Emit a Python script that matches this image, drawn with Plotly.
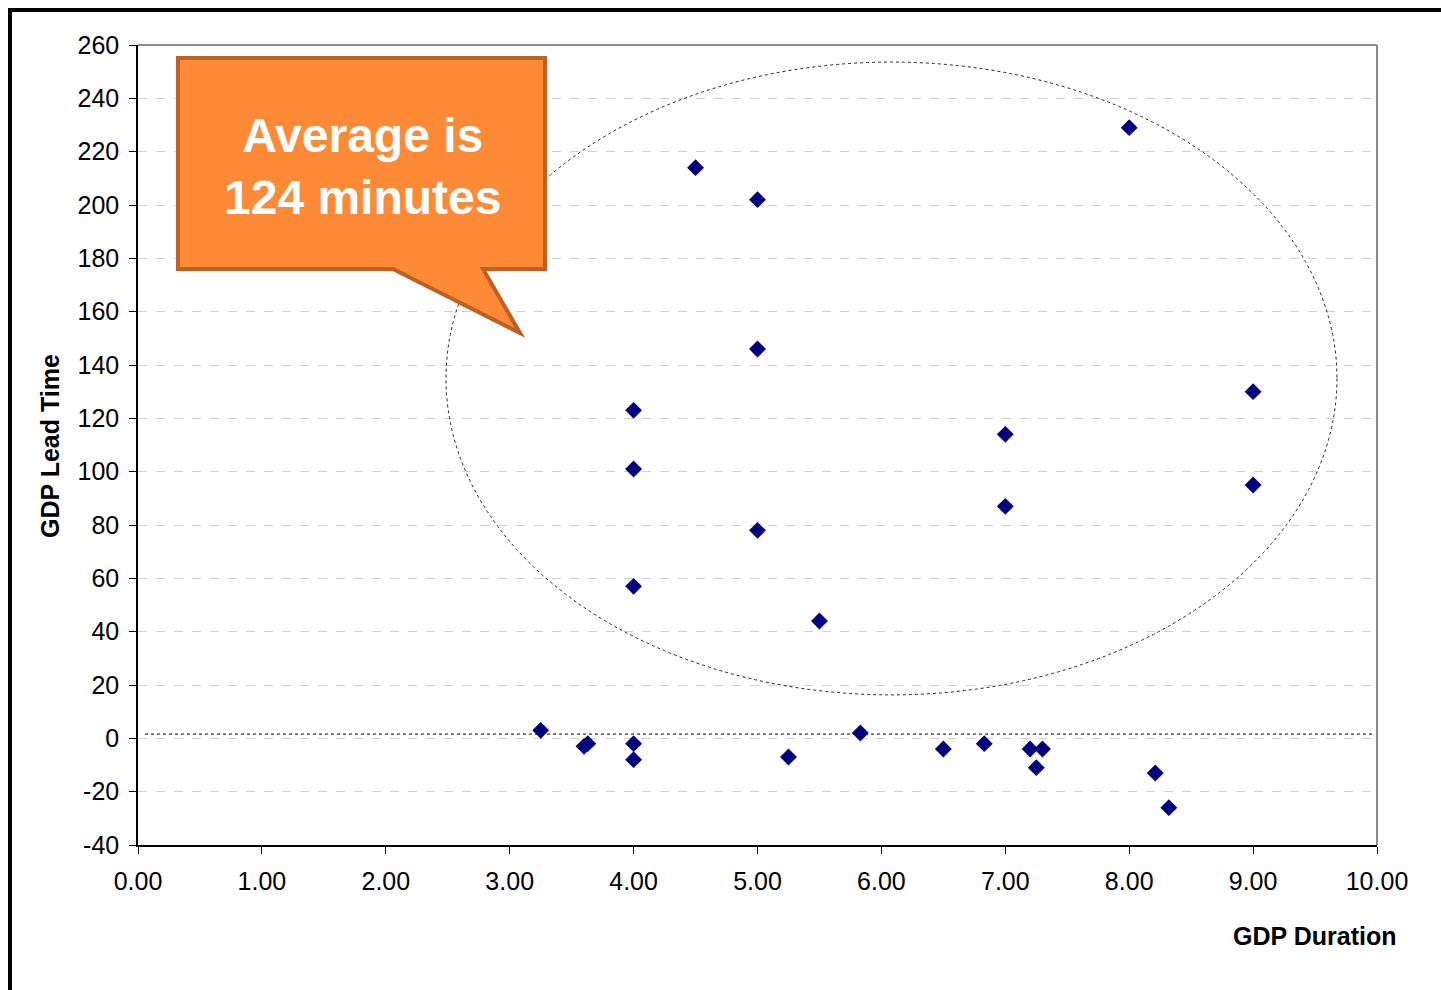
import plotly.graph_objects as go

# ---- data ----
gdp_duration = [3.25, 3.60, 3.63, 4.00, 4.00, 4.00, 4.00, 4.00, 4.50, 5.00, 5.00, 5.00,
                5.25, 5.50, 5.83, 6.50, 6.83, 7.00, 7.00, 7.20, 7.30, 7.25, 8.00, 8.21,
                8.32, 9.00, 9.00]
gdp_lead_time = [3, -3, -2, -2, -8, 57, 101, 123, 214, 202, 146, 78,
                 -7, 44, 2, -4, -2, 114, 87, -4, -4, -11, 229, -13,
                 -26, 130, 95]
x_ticks = [0, 1, 2, 3, 4, 5, 6, 7, 8, 9, 10]
x_tick_labels = ["0.00", "1.00", "2.00", "3.00", "4.00", "5.00", "6.00", "7.00", "8.00", "9.00", "10.00"]
y_ticks = list(range(-40, 261, 20))
y_tick_labels = [str(v) for v in y_ticks]
callout_text = "Average is<br>124 minutes"
x_title = "GDP Duration"
y_title = "GDP Lead Time"
lower_line_value = 1.6

W, H = 1441, 990
L, R, T, B = 138, 64, 45, 145
pw, ph = W - L - R, H - T - B

def px(xp):
    return (xp - L) / pw

def py(yp):
    return (H - B - yp) / ph

FONT = "Liberation Sans, Arial, sans-serif"

fig = go.Figure()
fig.add_trace(go.Scatter(
    x=gdp_duration, y=gdp_lead_time, mode="markers",
    marker=dict(symbol="diamond", size=13, color="#000080",
                line=dict(width=0)),
    showlegend=False, cliponaxis=False,
))

shapes = []
# outer black frame
shapes.append(dict(type="rect", xref="paper", yref="paper",
                   x0=px(10), x1=px(1460), y0=py(10), y1=py(1010),
                   line=dict(color="black", width=4), fillcolor="rgba(0,0,0,0)", layer="below"))
# plot area border top / right (gray)
shapes.append(dict(type="line", xref="paper", yref="paper", x0=0, x1=1, y0=1, y1=1,
                   line=dict(color="#8c8c8c", width=2)))
shapes.append(dict(type="line", xref="paper", yref="paper", x0=1, x1=1, y0=0, y1=1,
                   line=dict(color="#8c8c8c", width=2)))
# dotted line near zero
shapes.append(dict(type="line", xref="paper", yref="y", x0=px(145), x1=px(1373),
                   y0=lower_line_value, y1=lower_line_value,
                   line=dict(color="black", width=1, dash="dot")))
# dotted ellipse
shapes.append(dict(type="circle", xref="x", yref="y", x0=2.486, x1=9.677, y0=16.3, y1=253.6,
                   line=dict(color="#222222", width=1, dash="dot")))
# callout
cx0, cx1, cy0, cy1 = px(178), px(545), py(269), py(58)
path = (f"M {cx0},{cy1} L {cx1},{cy1} L {cx1},{cy0} L {px(483)},{cy0} "
        f"L {px(520)},{py(333)} L {px(393)},{cy0} L {cx0},{cy0} Z")
shapes.append(dict(type="path", xref="paper", yref="paper", path=path,
                   fillcolor="#FF8A36", line=dict(color="#BE5F25", width=4), layer="above"))

fig.update_layout(
    width=W, height=H,
    margin=dict(l=L, r=R, t=T, b=B),
    paper_bgcolor="white", plot_bgcolor="white",
    font=dict(family=FONT, size=25, color="black"),
    shapes=shapes,
    xaxis=dict(range=[0, 10], tickvals=x_ticks, ticktext=x_tick_labels,
               showgrid=False, zeroline=False, showline=True, linecolor="black", linewidth=1.5,
               ticks="outside", ticklen=7, tickcolor="black", ticklabelstandoff=6,
               tickfont=dict(size=25, family=FONT)),
    yaxis=dict(range=[-40, 260], tickvals=y_ticks, ticktext=y_tick_labels,
               showgrid=True, gridcolor="#cfcfcf", griddash="dash", gridwidth=1,
               zeroline=False, showline=True, linecolor="black", linewidth=1.5,
               ticks="outside", ticklen=7, tickcolor="black", ticklabelstandoff=5,
               tickfont=dict(size=25, family=FONT)),
    annotations=[
        dict(text=callout_text, xref="paper", yref="paper", x=px(362), y=py(166),
             showarrow=False, font=dict(family=FONT, size=48, color="white", weight="bold"),
             xanchor="center", yanchor="middle", align="center"),
        dict(text="<b>" + x_title + "</b>", xref="paper", yref="paper", x=px(1398), y=py(936),
             showarrow=False, xanchor="right", yanchor="middle", font=dict(size=25, family=FONT)),
        dict(text="<b>" + y_title + "</b>", xref="paper", yref="paper", x=px(50), y=py(446),
             showarrow=False, textangle=-90, xanchor="center", yanchor="middle",
             font=dict(size=25, family=FONT)),
    ],
)

fig.write_html("out.html", config={"displayModeBar": False})

# remove the default page margin so the figure sits at the window's top-left corner
with open("out.html", "r", encoding="utf-8") as f:
    html = f.read()
html = html.replace("<body>", '<body style="margin:0;overflow:hidden">', 1)
with open("out.html", "w", encoding="utf-8") as f:
    f.write(html)
